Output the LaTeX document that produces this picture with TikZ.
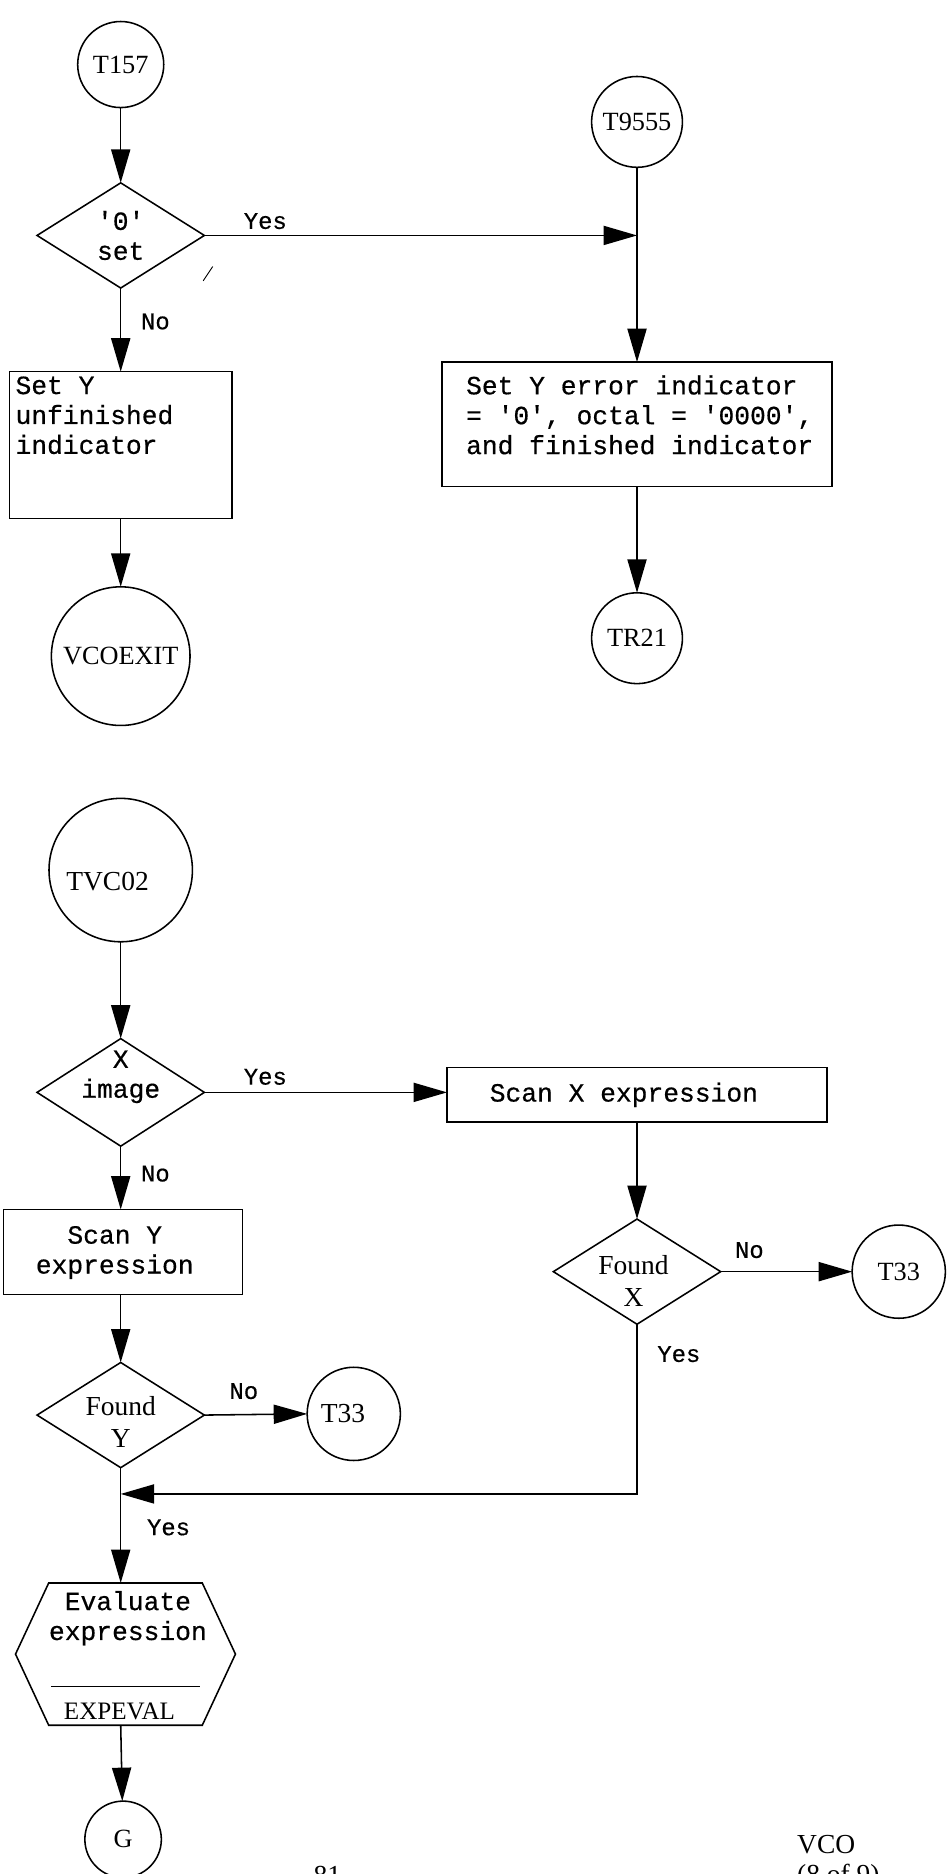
\documentclass[tikz,border=0pt]{standalone}
\usepackage{fontspec}
\setmainfont{Liberation Serif}
\setmonofont[FakeBold=0.5]{Liberation Mono}
\usetikzlibrary{arrows.meta,shapes.geometric,shapes.symbols}
\begin{document}
\begin{tikzpicture}[x=1pt,y=-1pt,
  every node/.style={inner sep=0pt, outer sep=0pt},
  ln/.style={line width=1.3pt},
  conn/.style={ln, -{Triangle[length=28pt,width=16pt]}},
  circ/.style={draw, ln, circle, font=\fontsize{22}{26}\selectfont},
  proc/.style={draw, ln, rectangle},
  dec/.style={draw, ln, diamond, minimum width=140pt, minimum height=88pt},
  tt/.style={font=\ttfamily\fontsize{22}{25}\selectfont, align=left},
  lab/.style={font=\ttfamily\fontsize{20}{24}\selectfont},
  rm/.style={font=\fontsize{23}{27}\selectfont, align=center},
]
\useasboundingbox (0,0) rectangle (792,1568);

% ---------- top left ----------
\node[circ, minimum size=72pt] (t157) at (101,54) {T157};
\node[dec] (d1) at (101,197) {};
\node[tt, align=center] (d1t) at (101,197) {'0'\\set};
\draw[conn] (t157) -- (d1);
\node[lab] (yes1) at (222,185) {Yes};
\coordinate (j1) at (533,197);
\draw[conn] (d1.east) -- (j1);
\draw[line width=0.8pt] (178,223) -- (170,235);
\node[lab] (no1) at (130,269) {No};
\node[proc, minimum width=186pt, minimum height=123pt] (b1) at (101,372.5) {};
\node[tt, anchor=north west] (b1t) at (13,315) {Set Y\\unfinished\\indicator};
\draw[conn] (d1) -- (b1);
\node[circ, minimum size=116pt] (vx) at (101,549) {VCOEXIT};
\draw[conn] (b1) -- (vx);

% ---------- top right ----------
\node[circ, minimum size=76pt] (t9555) at (533,102) {T9555};
\node[proc, minimum width=326pt, minimum height=104pt] (b2) at (533,355) {};
\node[tt, anchor=north west] (b2t) at (390,314) {Set Y error indicator\\= '0', octal = '0000',\\and finished indicator};
\draw[conn] (t9555) -- (b2);
\node[circ, minimum size=76pt] (tr21) at (533,534) {TR21};
\draw[conn] (b2) -- (tr21);

% ---------- bottom ----------
\node[circ, minimum size=120pt] (tvc) at (101,728) {};
\node[rm] (tvct) at (90,738) {TVC02};
\node[dec, minimum height=90pt] (d2) at (101,914) {};
\node[tt, align=center] (d2t) at (101,901) {X\\image};
\draw[conn] (tvc) -- (d2);
\node[lab] (yes2) at (222,901) {Yes};
\node[proc, minimum width=318pt, minimum height=46pt] (b3) at (533,916) {};
\node[tt] (b3t) at (522,916) {Scan X expression};
\draw[conn] (d2.east) -- (d2.east -| b3.west);

\node[dec, minimum width=140pt, minimum height=88pt] (d3) at (533,1064) {};
\node[rm] (d3t) at (530,1072) {Found\\X};
\draw[conn] (b3) -- (d3);
\node[lab] (no3) at (627,1046) {No};
\node[circ, minimum size=78pt] (t33a) at (752,1064) {T33};
\draw[conn] (d3.east) -- (t33a.west);
\node[lab] (yes3) at (568,1133) {Yes};
\coordinate (j2) at (101,1250);
\draw[conn] (d3.south) |- (j2);

\node[lab] (no2) at (130,982) {No};
\node[proc, minimum width=200pt, minimum height=71pt] (b4) at (103,1047.5) {};
\node[tt, align=center] (b4t) at (96,1048) {Scan Y\\expression};
\draw[conn] (d2.south) -- (d2.south |- b4.north);

\node[dec, minimum height=88pt] (d4) at (101,1184) {};
\node[rm] (d4t) at (101,1190) {Found\\Y};
\draw[conn] (b4.south -| d4.north) -- (d4.north);
\node[lab] (no4) at (204,1164) {No};
\node[circ, minimum size=78pt] (t33b) at (296,1183) {};
\node[rm] (t33bt) at (287,1183) {T33};
\draw[conn] (d4.east) -- (t33b.west);
\node[lab] (yes4) at (141,1278) {Yes};

\node[signal, signal to=east and west, draw, ln, minimum width=184pt, minimum height=119pt, signal pointer angle=130] (hex) at (105,1384) {};
\node[tt, align=center] (hext) at (107,1354) {Evaluate\\expression};
\draw[ln] (43,1411) -- (167,1411);
\node[rm, font=\fontsize{21}{24}\selectfont] (hexl) at (100,1432) {EXPEVAL};
\draw[conn] (d4.south) -- (d4.south |- hex.north);

\node[circ, minimum size=64pt] (g) at (103,1539) {G};
\draw[conn] (hex.south -| d4.south) -- (g);

\node[rm, anchor=base] (pg) at (274,1577) {81};
\node[rm, anchor=base west] (vco) at (667,1551) {VCO};
\node[rm, anchor=base west] (pg2) at (667,1576) {(8 of 9)};
\end{tikzpicture}
\end{document}
